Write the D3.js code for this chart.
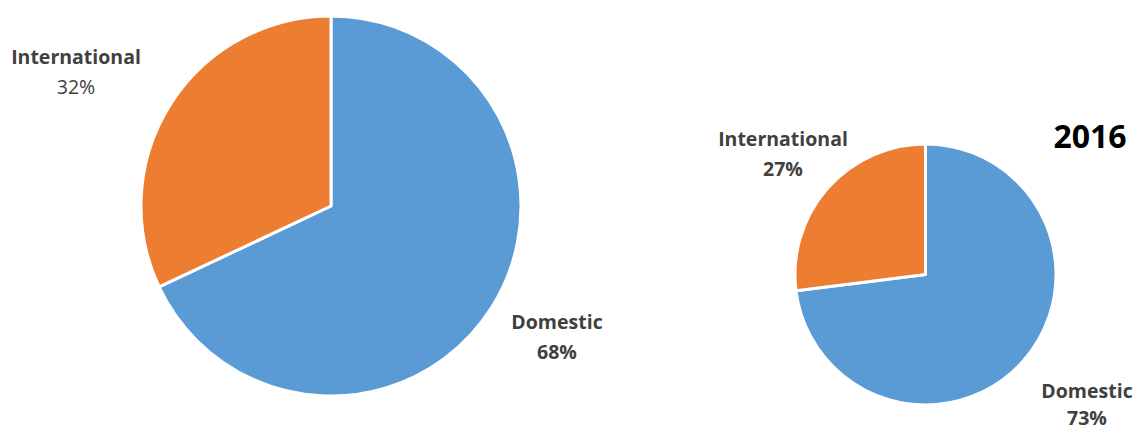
<!DOCTYPE html>
<html>
<head>
<meta charset="utf-8">
<script src="https://cdn.jsdelivr.net/npm/d3@7"></script>
<style>
  html, body { margin: 0; padding: 0; background: #fff; }
  svg { display: block; }
  text { font-family: "Open Sans", "Noto Sans", sans-serif; }
</style>
</head>
<body>
<svg id="chart" width="1136" height="432"></svg>
<script>
// Market split by segment
const categories = ["Domestic", "International"];
const colors = ["#5B9BD5", "#ED7D31"];
const valuesA = [68, 32];
const valuesB = [73, 27];
const yearB = "2016";

const svg = d3.select("#chart");

// One pie per year; slices start at 12 o'clock and run clockwise
function drawPie(values, cx, cy, r) {
  const pie = d3.pie().sort(null).value(d => d);
  const arc = d3.arc().innerRadius(0).outerRadius(r);
  const g = svg.append("g").attr("transform", `translate(${cx},${cy})`);
  g.selectAll("path")
    .data(pie(values))
    .join("path")
    .attr("d", arc)
    .attr("fill", (d, i) => colors[i])
    .attr("stroke", "#fff")
    .attr("stroke-width", 3)
    .attr("stroke-linejoin", "round");
}

drawPie(valuesA, 331, 206, 190);
drawPie(valuesB, 925.5, 274.5, 130.5);

// Category / percentage labels
function label(x, y, name, value, boldValue, gap) {
  const t = svg.append("text")
    .attr("x", x).attr("y", y)
    .attr("text-anchor", "middle")
    .attr("fill", "#404040")
    .style("font-size", "19.5px");
  t.append("tspan").attr("x", x).attr("dy", 0)
    .attr("font-weight", "bold").text(name);
  t.append("tspan").attr("x", x).attr("dy", gap || 30)
    .attr("font-weight", boldValue ? "bold" : "normal").text(value + "%");
}

label(76, 64, categories[1], valuesA[1], false);
label(557, 329, categories[0], valuesA[0], true);
label(783, 146, categories[1], valuesB[1], true);
label(1087, 398, categories[0], valuesB[0], true, 27);

svg.append("text")
  .attr("x", 1090).attr("y", 148)
  .attr("text-anchor", "middle")
  .attr("font-weight", "bold")
  .attr("fill", "#000")
  .style("font-size", "32px")
  .text(yearB);
</script>
</body>
</html>
